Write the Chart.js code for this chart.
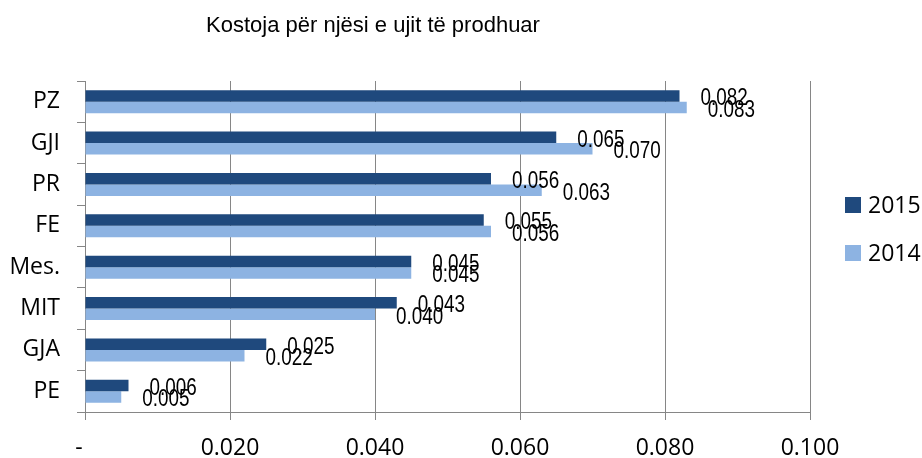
<!DOCTYPE html>
<html>
<head>
<meta charset="utf-8">
<script src="https://cdn.jsdelivr.net/npm/chart.js@4"></script>
<style>
  html, body { margin: 0; padding: 0; background: #fff; }
</style>
</head>
<body>
<canvas id="chart" width="922" height="458"></canvas>
<script>
// data
const categories = ['PZ', 'GJI', 'PR', 'FE', 'Mes.', 'MIT', 'GJA', 'PE'];
const values2015 = [0.082, 0.065, 0.056, 0.055, 0.045, 0.043, 0.025, 0.006];
const values2014 = [0.083, 0.070, 0.063, 0.056, 0.045, 0.040, 0.022, 0.005];
const seriesNames = ['2015', '2014'];
const chartTitle = 'Kostoja për njësi e ujit të prodhuar';

const axisFont = { family: 'Open Sans', size: 23 };
const gridGray = '#868686';

// title, value labels and legend drawn by hand to match the Excel layout
const extras = {
  id: 'extras',
  afterDatasetsDraw(chart) {
    const ctx = chart.ctx;
    ctx.save();
    ctx.fillStyle = '#000';

    // narrow look for the value labels (squeezed Liberation Sans)
    ctx.font = '23px "Liberation Sans", Arial';
    ctx.textAlign = 'left';
    ctx.textBaseline = 'middle';
    chart.data.datasets.forEach((ds, i) => {
      chart.getDatasetMeta(i).data.forEach((bar, j) => {
        ctx.save();
        ctx.translate(bar.x + 21, bar.y + 3);
        ctx.scale(0.82, 1);
        ctx.fillText(ds.data[j].toFixed(3), 0, 0);
        ctx.restore();
      });
    });

    ctx.font = '22px "Liberation Sans", Arial';
    ctx.textAlign = 'center';
    ctx.textBaseline = 'alphabetic';
    ctx.fillText(chartTitle, 373, 32);

    const legendY = [205, 253];
    ctx.font = '23px "Open Sans"';
    ctx.textAlign = 'left';
    ctx.textBaseline = 'middle';
    chart.data.datasets.forEach((ds, i) => {
      ctx.fillStyle = ds.backgroundColor;
      ctx.fillRect(845, legendY[i] - 8, 16, 16);
      ctx.fillStyle = '#000';
      ctx.fillText(ds.label, 868, legendY[i] + 1);
    });
    ctx.restore();
  }
};

new Chart(document.getElementById('chart'), {
  type: 'bar',
  data: {
    labels: categories,
    datasets: [
      { label: seriesNames[0], data: values2015, backgroundColor: '#1F497D' },
      { label: seriesNames[1], data: values2014, backgroundColor: '#8DB3E2' }
    ]
  },
  options: {
    indexAxis: 'y',
    responsive: false,
    animation: false,
    layout: { padding: { left: 0, top: 81, right: 112, bottom: 0 } },
    plugins: {
      legend: { display: false },
      title: { display: false },
      tooltip: { enabled: false }
    },
    datasets: { bar: { categoryPercentage: 0.556, barPercentage: 1 } },
    scales: {
      x: {
        min: 0,
        max: 0.1,
        ticks: {
          stepSize: 0.02,
          padding: 15,
          color: '#000',
          font: axisFont,
          maxRotation: 0,
          autoSkip: false,
          callback: v => v === 0 ? '-  ' : v.toFixed(3)
        },
        grid: { color: gridGray, tickLength: 8 },
        border: { color: gridGray },
        afterFit: s => { s.height = 46; }
      },
      y: {
        ticks: { padding: 17, color: '#000', font: axisFont },
        grid: { offset: true, drawOnChartArea: false, tickLength: 8, color: gridGray },
        border: { color: gridGray },
        afterFit: s => { s.width = 85; }
      }
    }
  },
  plugins: [extras]
});
</script>
</body>
</html>
